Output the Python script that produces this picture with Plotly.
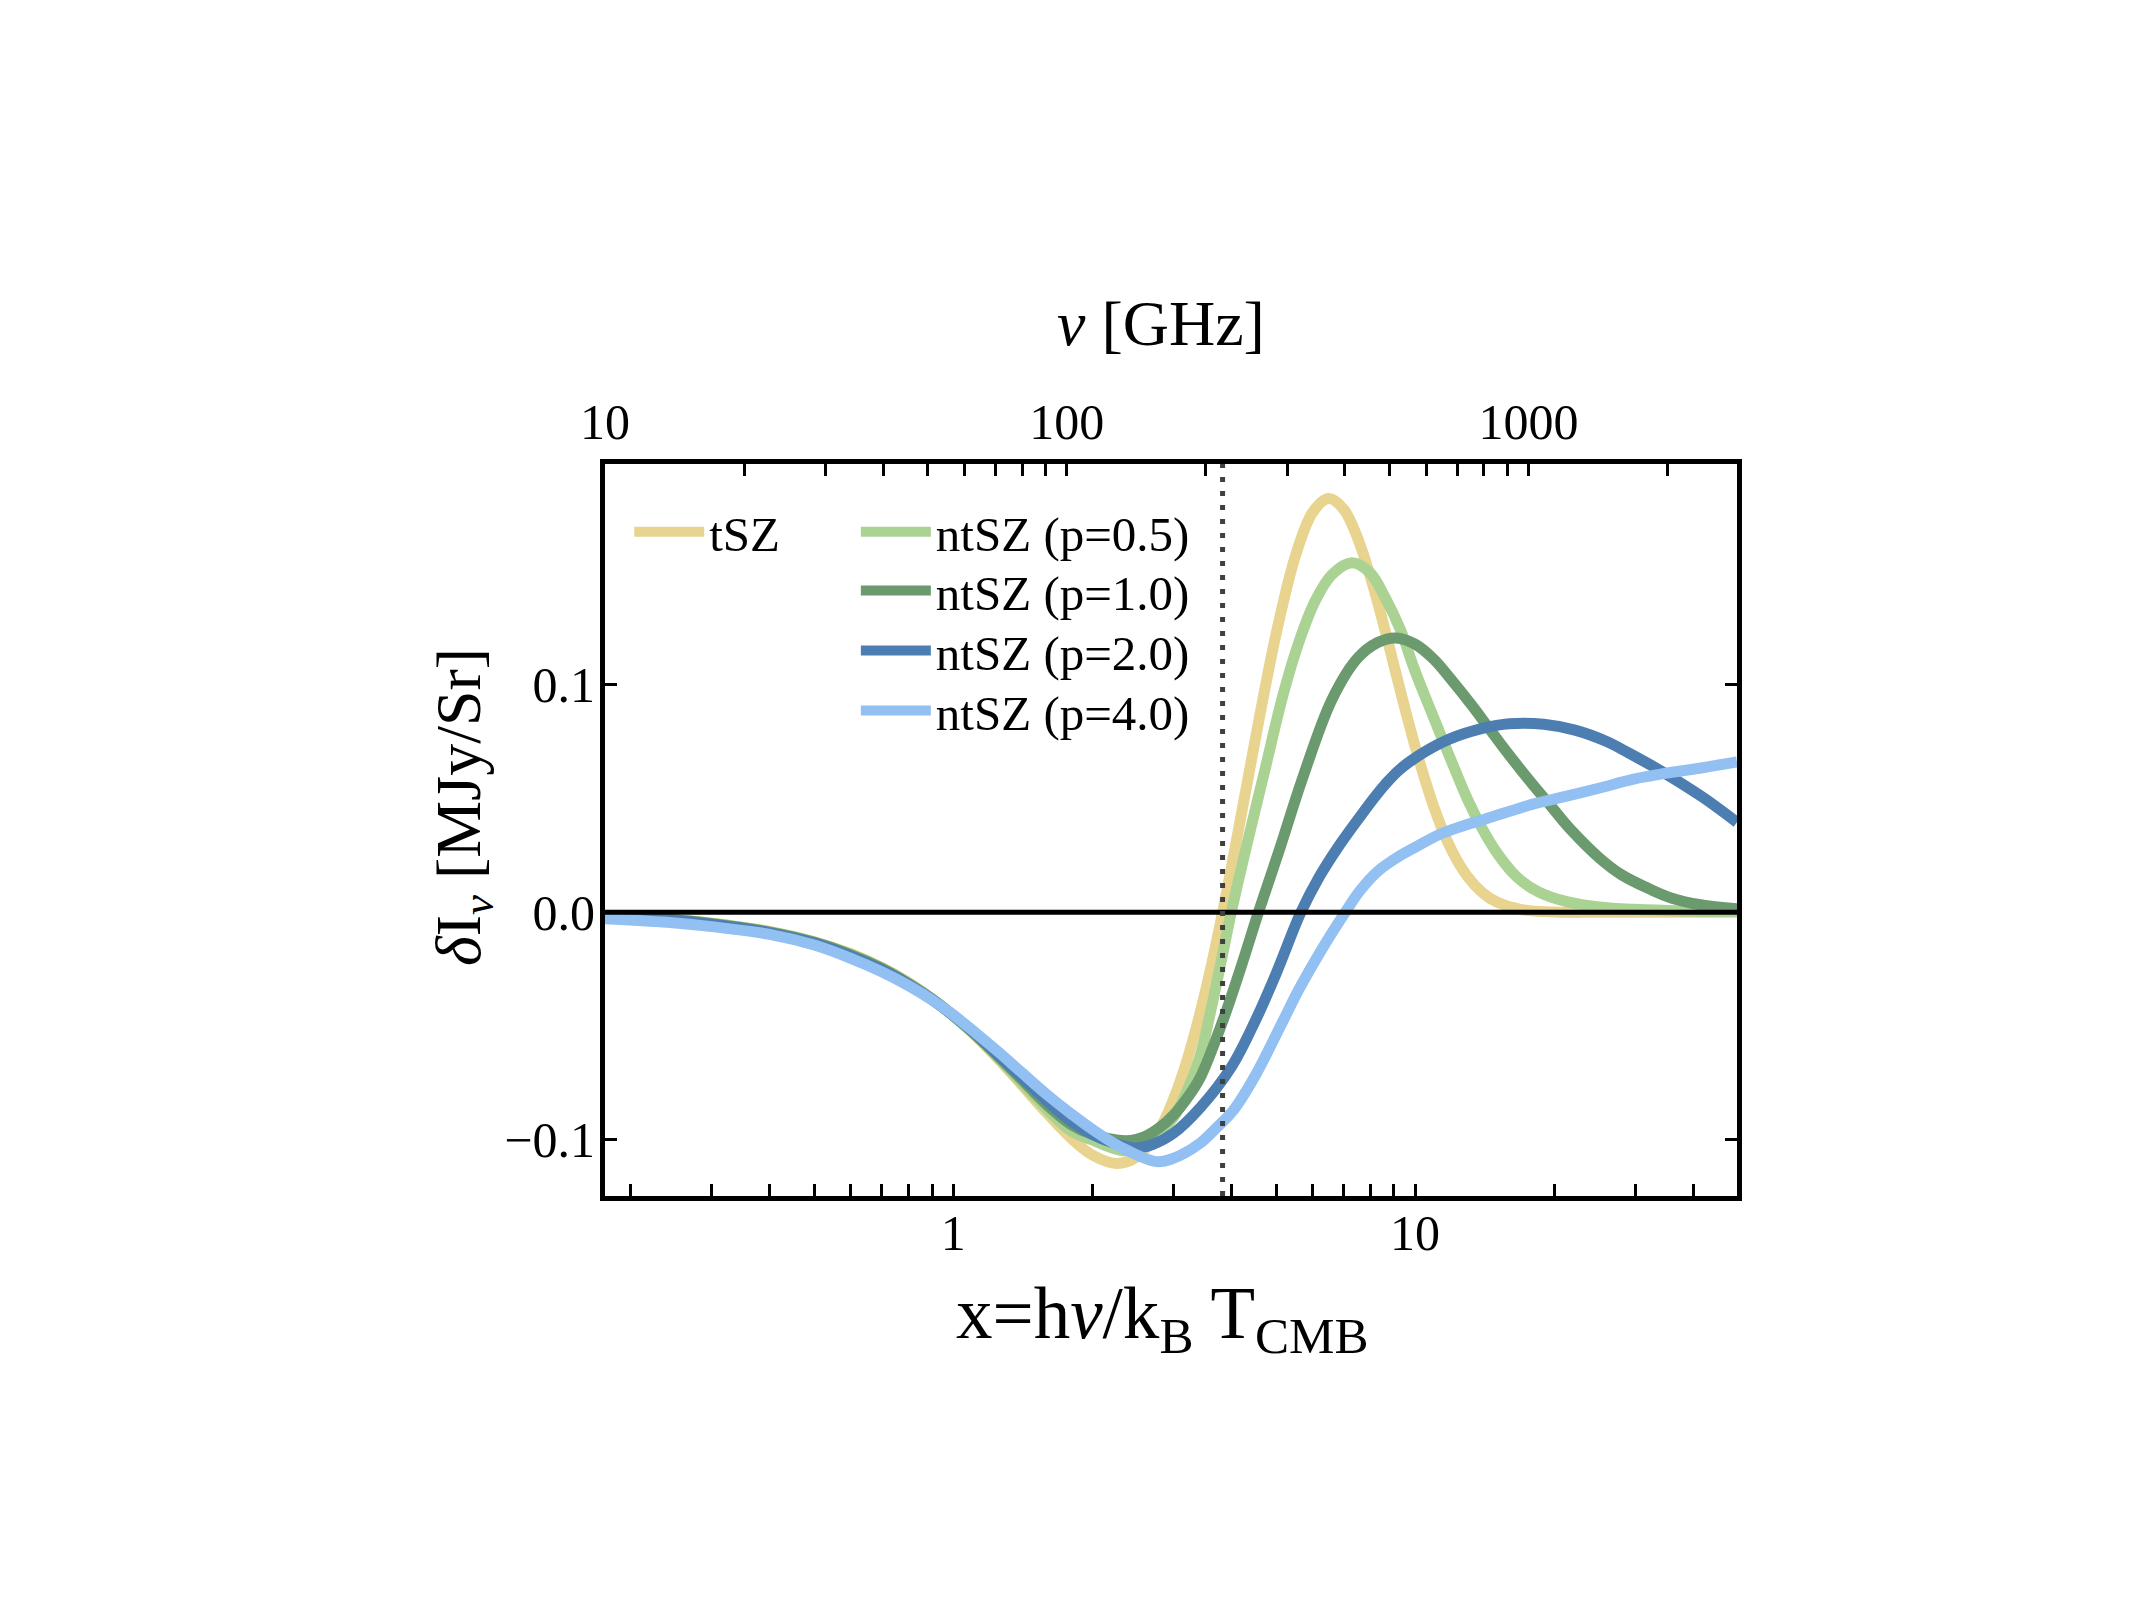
import math
import plotly.graph_objects as go

# ---------------- data ----------------
NU_PER_X = 56.78          # GHz per unit of x = h nu / k_B T_CMB
X_MIN = 10.0 / NU_PER_X   # left edge = 10 GHz
X_MAX = 49.8
Y_MIN, Y_MAX = -0.1246, 0.1969
X_NULL = 3.83             # tSZ null

X_TSZ = [0.1761, 0.25, 0.3, 0.4, 0.5, 0.6, 0.7, 0.8, 0.9, 1.0, 1.1, 1.25, 1.4, 1.6, 1.8, 2.0,
         2.26, 2.5, 2.8, 3.0, 3.2, 3.42, 3.6, 3.83, 4.0, 4.3, 4.6, 5.0, 5.5, 6.0, 6.5, 7.0,
         7.5, 8.0, 8.5, 9.0, 9.5, 10, 11, 12, 13, 14, 15, 17, 20, 25, 35, 49.8]
Y_TSZ = [-0.0017, -0.0033, -0.0048, -0.0084, -0.0129, -0.0182, -0.0242, -0.0308, -0.0379,
         -0.0453, -0.0529, -0.0643, -0.0753, -0.0885, -0.0992, -0.1066, -0.1103, -0.1073,
         -0.0951, -0.0820, -0.0657, -0.0446, -0.0257, 0.0, 0.0195, 0.0535, 0.0853, 0.1221,
         0.1561, 0.1756, 0.1817, 0.1771, 0.1647, 0.1475, 0.1282, 0.1085, 0.0898, 0.0730,
         0.0459, 0.0273, 0.0156, 0.0086, 0.0046, 0.0012, 0.0001, 0.0, 0.0, 0.0]

X_P05 = [0.1761, 0.25, 0.3, 0.4, 0.5, 0.6, 0.7, 0.8, 0.9, 1.0, 1.1, 1.25, 1.4, 1.6, 1.8, 2.0,
         2.3, 2.5, 2.7, 3.0, 3.2, 3.42, 3.6, 3.8, 4.0, 4.32, 4.73, 5.17, 5.6, 6.07, 6.6, 7.3,
         8.0, 8.6, 9.3, 10.0, 10.85, 11.9, 13.0, 14.0, 15.0, 16.6, 18.5, 21.3, 25, 30, 38, 49.8]
Y_P05 = [-0.0018, -0.0034, -0.0049, -0.0086, -0.0131, -0.0185, -0.0245, -0.0311, -0.0381,
         -0.0454, -0.0528, -0.0638, -0.0744, -0.0868, -0.0960, -0.1000, -0.1045, -0.1040,
         -0.0990, -0.0900, -0.0790, -0.0635, -0.0445, -0.0220, 0.0, 0.0295, 0.0625, 0.0950,
         0.1185, 0.1365, 0.1482, 0.1535, 0.1490, 0.1385, 0.1240, 0.1060, 0.0880, 0.0680,
         0.0495, 0.0365, 0.0265, 0.0156, 0.0090, 0.0047, 0.0024, 0.0013, 0.0006, 0.0003]

X_P10 = [0.1761, 0.25, 0.3, 0.4, 0.5, 0.6, 0.7, 0.8, 0.9, 1.0, 1.1, 1.25, 1.4, 1.6, 1.8, 2.0,
         2.37, 2.6, 2.8, 3.0, 3.2, 3.42, 3.84, 4.2, 4.58, 5.11, 5.69, 6.6, 7.5, 8.3, 9.1, 10.0,
         11.0, 12.0, 13.2, 14.5, 16.0, 18.0, 20.0, 21.7, 25.2, 28.0, 32.4, 36.0, 41.5, 49.8]
Y_P10 = [-0.0018, -0.0034, -0.0050, -0.0087, -0.0132, -0.0187, -0.0247, -0.0313, -0.0382,
         -0.0454, -0.0525, -0.0632, -0.0730, -0.0848, -0.0932, -0.0975, -0.1003, -0.0985,
         -0.0945, -0.0890, -0.0820, -0.0729, -0.0473, -0.0240, 0.0, 0.0288, 0.0581, 0.0932,
         0.1115, 0.1185, 0.1205, 0.1178, 0.1110, 0.1020, 0.0915, 0.0805, 0.0690, 0.0560,
         0.0450, 0.0365, 0.0235, 0.0165, 0.0100, 0.0062, 0.0033, 0.0015]

X_P20 = [0.1761, 0.25, 0.3, 0.4, 0.5, 0.6, 0.7, 0.8, 0.9, 1.0, 1.1, 1.25, 1.4, 1.6, 1.8, 2.0,
         2.2, 2.49, 2.7, 3.0, 3.42, 4.0, 4.5, 5.0, 5.66, 6.2, 6.78, 7.6, 8.1, 8.6, 9.3, 10.5,
         11.9, 14.0, 16.0, 19.0, 22.2, 26.0, 29.0, 34.8, 42.0, 49.8]
Y_P20 = [-0.0019, -0.0036, -0.0052, -0.0090, -0.0136, -0.0192, -0.0252, -0.0317, -0.0384,
         -0.0453, -0.0522, -0.0625, -0.0720, -0.0830, -0.0918, -0.0975, -0.1010, -0.1035,
         -0.1020, -0.0970, -0.0860, -0.0680, -0.0480, -0.0270, 0.0, 0.0155, 0.0280, 0.0420,
         0.0495, 0.0560, 0.0630, 0.0705, 0.0762, 0.0808, 0.0828, 0.0826, 0.0800, 0.0750,
         0.0700, 0.0610, 0.0505, 0.0395]

X_P40 = [0.1761, 0.24, 0.3, 0.4, 0.5, 0.6, 0.7, 0.8, 0.9, 1.0, 1.12, 1.25, 1.4, 1.6, 1.8, 2.0,
         2.3, 2.75, 3.0, 3.42, 3.7, 4.04, 4.5, 5.19, 5.6, 6.23, 7.06, 7.6, 8.3, 9.3, 10.0, 11.3,
         14.2, 18.0, 20.3, 25.0, 29.75, 34.8, 42.0, 49.8]
Y_P40 = [-0.0028, -0.0044, -0.0063, -0.0097, -0.0144, -0.0202, -0.0261, -0.0322, -0.0385,
         -0.0451, -0.0531, -0.0612, -0.0700, -0.0803, -0.0885, -0.0953, -0.1030, -0.1095,
         -0.1080, -0.1015, -0.0950, -0.0870, -0.0720, -0.0473, -0.0340, -0.0175, 0.0, 0.0095,
         0.0180, 0.0250, 0.0285, 0.0342, 0.0410, 0.0475, 0.0500, 0.0545, 0.0585, 0.0610,
         0.0635, 0.0660]

SERIES_NAMES = ["tSZ", "ntSZ (p=0.5)", "ntSZ (p=1.0)", "ntSZ (p=2.0)", "ntSZ (p=4.0)"]
SERIES_COLORS = ["#E8D38F", "#A9D293", "#6A9A6E", "#4C7EB1", "#92C0F2"]

X_MAJOR = [1, 10]
X_MAJOR_TEXT = ["1", "10"]
X_MINOR = [0.2, 0.3, 0.4, 0.5, 0.6, 0.7, 0.8, 0.9, 2, 3, 4, 5, 6, 7, 8, 9, 20, 30, 40]
NU_MAJOR = [10, 100, 1000]
NU_MAJOR_TEXT = ["10", "100", "1000"]
NU_MINOR = [20, 30, 40, 50, 60, 70, 80, 90, 200, 300, 400, 500, 600, 700, 800, 900, 2000]
Y_TICKS = [-0.1, 0.0, 0.1]
Y_TICKTEXT = ["\u22120.1", "0.0", "0.1"]

X_TITLE = "x=h<i>\u03bd</i>/k<sub>B</sub> T<sub>CMB</sub>"
NU_TITLE = "<i>\u03bd</i> [GHz]"
Y_TITLE = "<i>\u03b4</i>I<sub><i>\u03bd</i></sub> [MJy/Sr]"

# ---------------- figure ----------------
FONT = "Liberation Serif"
fig = go.Figure()

# one legend box per entry: tSZ alone in the first column, ntSZ stacked in the second
LEGEND_ITEMWIDTH = 70
LEGEND_POS = [(0.0214, 0.960), (0.2216, 0.960), (0.2216, 0.8797), (0.2216, 0.7977),
              (0.2216, 0.7157)]
legend_layout = {}
curves = [(X_TSZ, Y_TSZ), (X_P05, Y_P05), (X_P10, Y_P10), (X_P20, Y_P20), (X_P40, Y_P40)]
for i, ((xs, ys), name, col) in enumerate(zip(curves, SERIES_NAMES, SERIES_COLORS)):
    key = "legend" if i == 0 else f"legend{i + 1}"
    fig.add_trace(go.Scatter(
        x=xs, y=ys, mode="lines", name=name,
        line=dict(color=col, width=11, shape="spline", smoothing=1.0),
        legend=key,
    ))
    lx, ly = LEGEND_POS[i]
    legend_layout[key] = dict(x=lx, y=ly, xanchor="left", yanchor="top",
                              bgcolor="rgba(0,0,0,0)", borderwidth=0,
                              itemwidth=LEGEND_ITEMWIDTH,
                              font=dict(family=FONT, size=49, color="black"))

# zero line (drawn above the curves)
fig.add_trace(go.Scatter(x=[X_MIN, X_MAX], y=[0, 0], mode="lines",
                         line=dict(color="black", width=5), showlegend=False,
                         hoverinfo="skip"))
# dotted line at the tSZ null, placed on the frequency axis
fig.add_trace(go.Scatter(x=[X_NULL * NU_PER_X] * 2, y=[Y_MIN, Y_MAX], mode="lines",
                         xaxis="x2", yaxis="y",
                         line=dict(color="#404040", width=5, dash="5px,9px"),
                         showlegend=False, hoverinfo="skip"))

tick_style = dict(ticks="inside", ticklen=12, tickwidth=3, tickcolor="black")
axis_common = dict(showline=True, linecolor="black", linewidth=5, showgrid=False,
                   zeroline=False, tickfont=dict(family=FONT, size=50, color="black"),
                   **tick_style)

title_font = dict(family=FONT, color="black")
fig.update_layout(
    width=2134, height=1600,
    margin=dict(l=605, r=397, t=464, b=404),
    paper_bgcolor="white", plot_bgcolor="white",
    font=dict(family=FONT, size=50, color="black"),
    xaxis=dict(type="log", range=[math.log10(X_MIN), math.log10(X_MAX)], mirror=True,
               tickmode="array", tickvals=X_MAJOR, ticktext=X_MAJOR_TEXT,
               minor=dict(tickmode="array", tickvals=X_MINOR, **tick_style),
               ticklabelstandoff=-11, **axis_common),
    xaxis2=dict(type="log", overlaying="x", side="top",
                range=[math.log10(X_MIN * NU_PER_X), math.log10(X_MAX * NU_PER_X)],
                tickmode="array", tickvals=NU_MAJOR, ticktext=NU_MAJOR_TEXT,
                minor=dict(tickmode="array", tickvals=NU_MINOR, **tick_style),
                ticklabelstandoff=14,
                **{**axis_common, "showline": False}),
    yaxis=dict(range=[Y_MIN, Y_MAX], mirror="ticks", tickmode="array",
               tickvals=Y_TICKS, ticktext=Y_TICKTEXT, ticklabelstandoff=-5,
               **axis_common),
    annotations=[
        dict(text=NU_TITLE, xref="paper", yref="paper", x=0.4913, y=1.1913,
             xanchor="center", yanchor="middle", showarrow=False,
             font=dict(size=64, **title_font)),
        dict(text=X_TITLE, xref="paper", yref="paper", x=0.4922, y=-0.168,
             xanchor="center", yanchor="middle", showarrow=False,
             font=dict(size=73, **title_font)),
        dict(text=Y_TITLE, xref="paper", yref="paper", x=-0.1255, y=0.5314,
             xanchor="center", yanchor="middle", showarrow=False, textangle=-90,
             font=dict(size=64, **title_font)),
    ],
    **legend_layout,
)

fig.write_html("out.html")
